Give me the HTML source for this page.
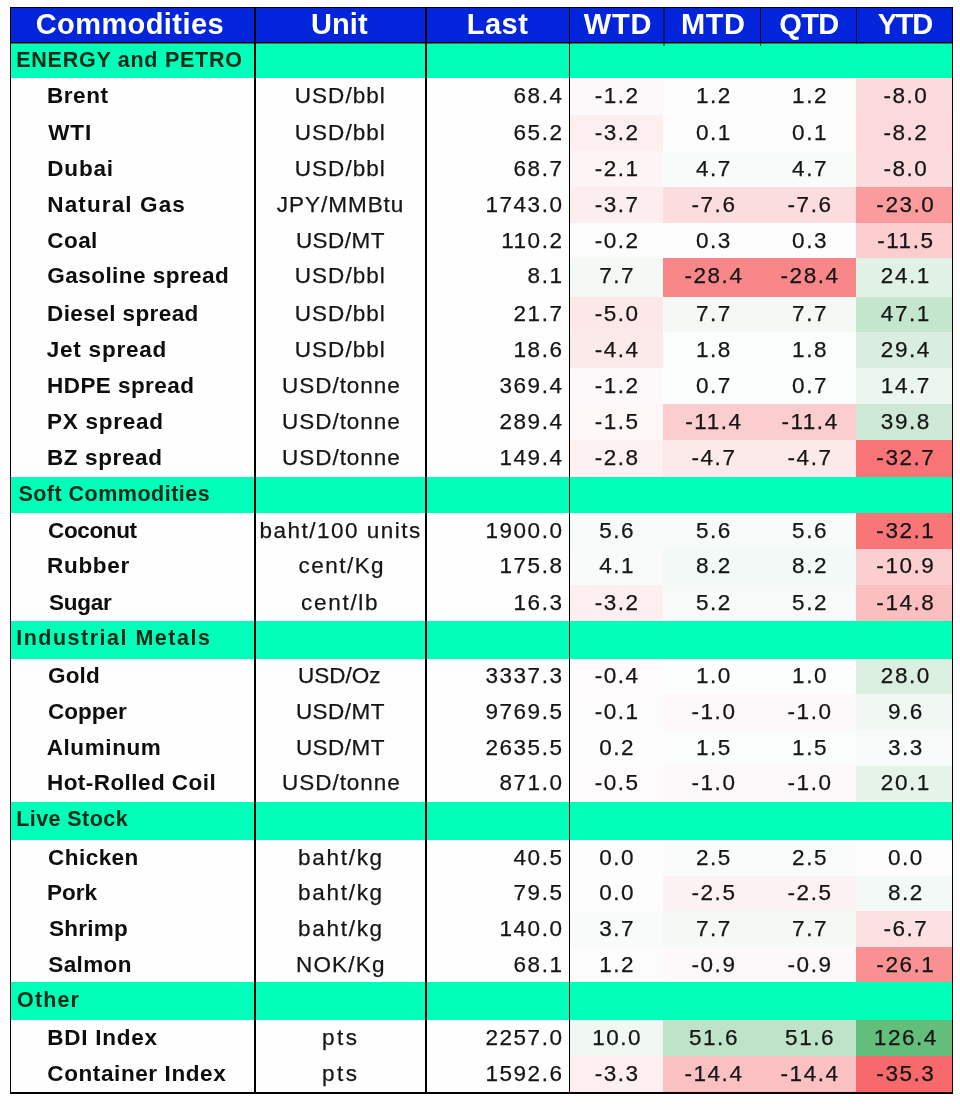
<!DOCTYPE html>
<html><head><meta charset="utf-8"><title>Commodities</title>
<style>
html,body{margin:0;padding:0;background:#fefefe;}
body{width:960px;height:1110px;position:relative;overflow:hidden;font-family:"Liberation Sans",Arial,sans-serif;color:#111;}
.a{position:absolute;}
.hd{background:#0224db;}
.h{position:absolute;top:6px;line-height:37px;color:#fff;font-weight:bold;font-size:29px;white-space:nowrap;}
.sec{background:#00ffb8;}
.t{position:absolute;white-space:nowrap;font-size:22.5px;line-height:35px;}
.n{font-weight:bold;color:#0d0d0d;}
.s{font-weight:bold;color:#052a18;font-size:21.5px;}
.u{color:#151515;-webkit-text-stroke:.25px #151515;}
.l{letter-spacing:1.55px;text-align:right;left:426px;width:137.55px;color:#151515;-webkit-text-stroke:.25px #151515;}
.v{letter-spacing:1.55px;text-align:center;color:#151515;-webkit-text-stroke:.25px #151515;text-indent:1.55px;}
.ln{position:absolute;background:#000;}
#w{position:absolute;left:0;top:0;width:960px;height:1110px;filter:blur(.55px);}
</style></head><body><div id="w">

<div class="a hd" style="left:10px;top:7px;width:943px;height:36px;"></div>
<div class="h" style="left:35.70px;letter-spacing:0.42px;">Commodities</div>
<div class="h" style="left:310.90px;letter-spacing:0.13px;">Unit</div>
<div class="h" style="left:466.75px;letter-spacing:0.47px;">Last</div>
<div class="h" style="left:583.75px;letter-spacing:0.80px;">WTD</div>
<div class="h" style="left:681.10px;letter-spacing:0.50px;">MTD</div>
<div class="h" style="left:779.20px;letter-spacing:-0.60px;">QTD</div>
<div class="h" style="left:877.75px;letter-spacing:-1.30px;">YTD</div>
<div class="a sec" style="left:11px;top:43px;width:942px;height:35px;"></div>
<div class="t s" style="top:43px;left:16.30px;letter-spacing:0.73px;">ENERGY and PETRO</div>
<div class="a" style="left:570px;top:78px;width:93px;height:37px;background:#fdf8f9;"></div>
<div class="a" style="left:663px;top:78px;width:97px;height:37px;background:#fcfcfd;"></div>
<div class="a" style="left:760px;top:78px;width:96px;height:37px;background:#fcfcfd;"></div>
<div class="a" style="left:856px;top:78px;width:97px;height:37px;background:#fcdbdd;"></div>
<div class="t n" style="top:78px;left:46.90px;letter-spacing:0.60px;">Brent</div>
<div class="t u" style="top:78px;left:294.80px;letter-spacing:1.03px;">USD/bbl</div>
<div class="t l" style="top:78px;">68.4</div>
<div class="t v" style="left:571.4px;width:90px;top:78px;">-1.2</div>
<div class="t v" style="left:668.2px;width:90px;top:78px;">1.2</div>
<div class="t v" style="left:764.3px;width:90px;top:78px;">1.2</div>
<div class="t v" style="left:860.1px;width:90px;top:78px;">-8.0</div>
<div class="a" style="left:570px;top:115px;width:93px;height:36px;background:#fdeff0;"></div>
<div class="a" style="left:663px;top:115px;width:97px;height:36px;background:#fdfdfe;"></div>
<div class="a" style="left:760px;top:115px;width:96px;height:36px;background:#fdfdfe;"></div>
<div class="a" style="left:856px;top:115px;width:97px;height:36px;background:#fcdadc;"></div>
<div class="t n" style="top:115px;left:48.30px;letter-spacing:0.80px;">WTI</div>
<div class="t u" style="top:115px;left:294.80px;letter-spacing:1.03px;">USD/bbl</div>
<div class="t l" style="top:115px;">65.2</div>
<div class="t v" style="left:571.4px;width:90px;top:115px;">-3.2</div>
<div class="t v" style="left:668.2px;width:90px;top:115px;">0.1</div>
<div class="t v" style="left:764.3px;width:90px;top:115px;">0.1</div>
<div class="t v" style="left:860.1px;width:90px;top:115px;">-8.2</div>
<div class="a" style="left:570px;top:151px;width:93px;height:36px;background:#fdf4f5;"></div>
<div class="a" style="left:663px;top:151px;width:97px;height:36px;background:#f7fbf9;"></div>
<div class="a" style="left:760px;top:151px;width:96px;height:36px;background:#f7fbf9;"></div>
<div class="a" style="left:856px;top:151px;width:97px;height:36px;background:#fcdbdd;"></div>
<div class="t n" style="top:151px;left:47.30px;letter-spacing:0.80px;">Dubai</div>
<div class="t u" style="top:151px;left:294.80px;letter-spacing:1.03px;">USD/bbl</div>
<div class="t l" style="top:151px;">68.7</div>
<div class="t v" style="left:571.4px;width:90px;top:151px;">-2.1</div>
<div class="t v" style="left:668.2px;width:90px;top:151px;">4.7</div>
<div class="t v" style="left:764.3px;width:90px;top:151px;">4.7</div>
<div class="t v" style="left:860.1px;width:90px;top:151px;">-8.0</div>
<div class="a" style="left:570px;top:187px;width:93px;height:36px;background:#fcedee;"></div>
<div class="a" style="left:663px;top:187px;width:97px;height:36px;background:#fcddde;"></div>
<div class="a" style="left:760px;top:187px;width:96px;height:36px;background:#fcddde;"></div>
<div class="a" style="left:856px;top:187px;width:97px;height:36px;background:#fa9c9e;"></div>
<div class="t n" style="top:187px;left:47.30px;letter-spacing:1.12px;">Natural Gas</div>
<div class="t u" style="top:187px;left:276.75px;letter-spacing:0.98px;">JPY/MMBtu</div>
<div class="t l" style="top:187px;">1743.0</div>
<div class="t v" style="left:571.4px;width:90px;top:187px;">-3.7</div>
<div class="t v" style="left:668.2px;width:90px;top:187px;">-7.6</div>
<div class="t v" style="left:764.3px;width:90px;top:187px;">-7.6</div>
<div class="t v" style="left:860.1px;width:90px;top:187px;">-23.0</div>
<div class="a" style="left:570px;top:223px;width:93px;height:35px;background:#fdfcfd;"></div>
<div class="a" style="left:663px;top:223px;width:97px;height:35px;background:#fdfdfe;"></div>
<div class="a" style="left:760px;top:223px;width:96px;height:35px;background:#fdfdfe;"></div>
<div class="a" style="left:856px;top:223px;width:97px;height:35px;background:#fbcdce;"></div>
<div class="t n" style="top:223px;left:47.30px;letter-spacing:0.43px;">Coal</div>
<div class="t u" style="top:223px;left:295.90px;letter-spacing:0.48px;">USD/MT</div>
<div class="t l" style="top:223px;">110.2</div>
<div class="t v" style="left:571.4px;width:90px;top:223px;">-0.2</div>
<div class="t v" style="left:668.2px;width:90px;top:223px;">0.3</div>
<div class="t v" style="left:764.3px;width:90px;top:223px;">0.3</div>
<div class="t v" style="left:860.1px;width:90px;top:223px;">-11.5</div>
<div class="a" style="left:570px;top:258px;width:93px;height:39px;background:#f4f9f6;"></div>
<div class="a" style="left:663px;top:258px;width:97px;height:39px;background:#f98688;"></div>
<div class="a" style="left:760px;top:258px;width:96px;height:39px;background:#f98688;"></div>
<div class="a" style="left:856px;top:258px;width:97px;height:39px;background:#e0f1e5;"></div>
<div class="t n" style="top:258px;left:47.30px;letter-spacing:0.46px;">Gasoline spread</div>
<div class="t u" style="top:258px;left:294.80px;letter-spacing:1.03px;">USD/bbl</div>
<div class="t l" style="top:258px;">8.1</div>
<div class="t v" style="left:571.4px;width:90px;top:258px;">7.7</div>
<div class="t v" style="left:668.2px;width:90px;top:258px;">-28.4</div>
<div class="t v" style="left:764.3px;width:90px;top:258px;">-28.4</div>
<div class="t v" style="left:860.1px;width:90px;top:258px;">24.1</div>
<div class="a" style="left:570px;top:297px;width:93px;height:35px;background:#fce8e9;"></div>
<div class="a" style="left:663px;top:297px;width:97px;height:35px;background:#f4f9f6;"></div>
<div class="a" style="left:760px;top:297px;width:96px;height:35px;background:#f4f9f6;"></div>
<div class="a" style="left:856px;top:297px;width:97px;height:35px;background:#c4e6cd;"></div>
<div class="t n" style="top:296px;left:47.00px;letter-spacing:0.42px;">Diesel spread</div>
<div class="t u" style="top:296px;left:294.80px;letter-spacing:1.03px;">USD/bbl</div>
<div class="t l" style="top:296px;">21.7</div>
<div class="t v" style="left:571.4px;width:90px;top:296px;">-5.0</div>
<div class="t v" style="left:668.2px;width:90px;top:296px;">7.7</div>
<div class="t v" style="left:764.3px;width:90px;top:296px;">7.7</div>
<div class="t v" style="left:860.1px;width:90px;top:296px;">47.1</div>
<div class="a" style="left:570px;top:332px;width:93px;height:36px;background:#fceaeb;"></div>
<div class="a" style="left:663px;top:332px;width:97px;height:36px;background:#fbfcfc;"></div>
<div class="a" style="left:760px;top:332px;width:96px;height:36px;background:#fbfcfc;"></div>
<div class="a" style="left:856px;top:332px;width:97px;height:36px;background:#d9eee0;"></div>
<div class="t n" style="top:332px;left:46.70px;letter-spacing:0.79px;">Jet spread</div>
<div class="t u" style="top:332px;left:294.80px;letter-spacing:1.03px;">USD/bbl</div>
<div class="t l" style="top:332px;">18.6</div>
<div class="t v" style="left:571.4px;width:90px;top:332px;">-4.4</div>
<div class="t v" style="left:668.2px;width:90px;top:332px;">1.8</div>
<div class="t v" style="left:764.3px;width:90px;top:332px;">1.8</div>
<div class="t v" style="left:860.1px;width:90px;top:332px;">29.4</div>
<div class="a" style="left:570px;top:368px;width:93px;height:36px;background:#fdf8f9;"></div>
<div class="a" style="left:663px;top:368px;width:97px;height:36px;background:#fcfdfd;"></div>
<div class="a" style="left:760px;top:368px;width:96px;height:36px;background:#fcfdfd;"></div>
<div class="a" style="left:856px;top:368px;width:97px;height:36px;background:#ebf6ef;"></div>
<div class="t n" style="top:368px;left:47.00px;letter-spacing:0.44px;">HDPE spread</div>
<div class="t u" style="top:368px;left:282.10px;letter-spacing:0.95px;">USD/tonne</div>
<div class="t l" style="top:368px;">369.4</div>
<div class="t v" style="left:571.4px;width:90px;top:368px;">-1.2</div>
<div class="t v" style="left:668.2px;width:90px;top:368px;">0.7</div>
<div class="t v" style="left:764.3px;width:90px;top:368px;">0.7</div>
<div class="t v" style="left:860.1px;width:90px;top:368px;">14.7</div>
<div class="a" style="left:570px;top:404px;width:93px;height:36px;background:#fdf7f8;"></div>
<div class="a" style="left:663px;top:404px;width:97px;height:36px;background:#fbcdce;"></div>
<div class="a" style="left:760px;top:404px;width:96px;height:36px;background:#fbcdce;"></div>
<div class="a" style="left:856px;top:404px;width:97px;height:36px;background:#cde9d5;"></div>
<div class="t n" style="top:404px;left:47.00px;letter-spacing:0.75px;">PX spread</div>
<div class="t u" style="top:404px;left:282.10px;letter-spacing:0.95px;">USD/tonne</div>
<div class="t l" style="top:404px;">289.4</div>
<div class="t v" style="left:571.4px;width:90px;top:404px;">-1.5</div>
<div class="t v" style="left:668.2px;width:90px;top:404px;">-11.4</div>
<div class="t v" style="left:764.3px;width:90px;top:404px;">-11.4</div>
<div class="t v" style="left:860.1px;width:90px;top:404px;">39.8</div>
<div class="a" style="left:570px;top:440px;width:93px;height:37px;background:#fdf1f2;"></div>
<div class="a" style="left:663px;top:440px;width:97px;height:37px;background:#fce9ea;"></div>
<div class="a" style="left:760px;top:440px;width:96px;height:37px;background:#fce9ea;"></div>
<div class="a" style="left:856px;top:440px;width:97px;height:37px;background:#f87476;"></div>
<div class="t n" style="top:440px;left:47.00px;letter-spacing:0.62px;">BZ spread</div>
<div class="t u" style="top:440px;left:282.10px;letter-spacing:0.95px;">USD/tonne</div>
<div class="t l" style="top:440px;">149.4</div>
<div class="t v" style="left:571.4px;width:90px;top:440px;">-2.8</div>
<div class="t v" style="left:668.2px;width:90px;top:440px;">-4.7</div>
<div class="t v" style="left:764.3px;width:90px;top:440px;">-4.7</div>
<div class="t v" style="left:860.1px;width:90px;top:440px;">-32.7</div>
<div class="a sec" style="left:11px;top:477px;width:942px;height:36px;"></div>
<div class="t s" style="top:477px;left:18.40px;letter-spacing:0.49px;">Soft Commodities</div>
<div class="a" style="left:570px;top:513px;width:93px;height:36px;background:#f6faf8;"></div>
<div class="a" style="left:663px;top:513px;width:97px;height:36px;background:#f6faf8;"></div>
<div class="a" style="left:760px;top:513px;width:96px;height:36px;background:#f6faf8;"></div>
<div class="a" style="left:856px;top:513px;width:97px;height:36px;background:#f87678;"></div>
<div class="t n" style="top:513px;left:48.00px;letter-spacing:-0.37px;">Coconut</div>
<div class="t u" style="top:513px;left:259.50px;letter-spacing:1.49px;">baht/100 units</div>
<div class="t l" style="top:513px;">1900.0</div>
<div class="t v" style="left:571.4px;width:90px;top:513px;">5.6</div>
<div class="t v" style="left:668.2px;width:90px;top:513px;">5.6</div>
<div class="t v" style="left:764.3px;width:90px;top:513px;">5.6</div>
<div class="t v" style="left:860.1px;width:90px;top:513px;">-32.1</div>
<div class="a" style="left:570px;top:549px;width:93px;height:36px;background:#f8fbfa;"></div>
<div class="a" style="left:663px;top:549px;width:97px;height:36px;background:#f3f9f6;"></div>
<div class="a" style="left:760px;top:549px;width:96px;height:36px;background:#f3f9f6;"></div>
<div class="a" style="left:856px;top:549px;width:97px;height:36px;background:#fbcfd0;"></div>
<div class="t n" style="top:548px;left:47.00px;letter-spacing:0.70px;">Rubber</div>
<div class="t u" style="top:548px;left:298.50px;letter-spacing:1.47px;">cent/Kg</div>
<div class="t l" style="top:548px;">175.8</div>
<div class="t v" style="left:571.4px;width:90px;top:548px;">4.1</div>
<div class="t v" style="left:668.2px;width:90px;top:548px;">8.2</div>
<div class="t v" style="left:764.3px;width:90px;top:548px;">8.2</div>
<div class="t v" style="left:860.1px;width:90px;top:548px;">-10.9</div>
<div class="a" style="left:570px;top:585px;width:93px;height:36px;background:#fdeff0;"></div>
<div class="a" style="left:663px;top:585px;width:97px;height:36px;background:#f7faf9;"></div>
<div class="a" style="left:760px;top:585px;width:96px;height:36px;background:#f7faf9;"></div>
<div class="a" style="left:856px;top:585px;width:97px;height:36px;background:#fbbfc0;"></div>
<div class="t n" style="top:585px;left:48.90px;letter-spacing:-0.25px;">Sugar</div>
<div class="t u" style="top:585px;left:301.10px;letter-spacing:1.70px;">cent/lb</div>
<div class="t l" style="top:585px;">16.3</div>
<div class="t v" style="left:571.4px;width:90px;top:585px;">-3.2</div>
<div class="t v" style="left:668.2px;width:90px;top:585px;">5.2</div>
<div class="t v" style="left:764.3px;width:90px;top:585px;">5.2</div>
<div class="t v" style="left:860.1px;width:90px;top:585px;">-14.8</div>
<div class="a sec" style="left:11px;top:621px;width:942px;height:38px;"></div>
<div class="t s" style="top:621px;left:16.20px;letter-spacing:1.50px;">Industrial Metals</div>
<div class="a" style="left:570px;top:659px;width:93px;height:35px;background:#fdfbfc;"></div>
<div class="a" style="left:663px;top:659px;width:97px;height:35px;background:#fcfdfd;"></div>
<div class="a" style="left:760px;top:659px;width:96px;height:35px;background:#fcfdfd;"></div>
<div class="a" style="left:856px;top:659px;width:97px;height:35px;background:#dbefe1;"></div>
<div class="t n" style="top:658px;left:48.00px;letter-spacing:0.17px;">Gold</div>
<div class="t u" style="top:658px;left:298.10px;letter-spacing:-0.04px;">USD/Oz</div>
<div class="t l" style="top:658px;">3337.3</div>
<div class="t v" style="left:571.4px;width:90px;top:658px;">-0.4</div>
<div class="t v" style="left:668.2px;width:90px;top:658px;">1.0</div>
<div class="t v" style="left:764.3px;width:90px;top:658px;">1.0</div>
<div class="t v" style="left:860.1px;width:90px;top:658px;">28.0</div>
<div class="a" style="left:570px;top:694px;width:93px;height:36px;background:#fdfcfd;"></div>
<div class="a" style="left:663px;top:694px;width:97px;height:36px;background:#fdf9fa;"></div>
<div class="a" style="left:760px;top:694px;width:96px;height:36px;background:#fdf9fa;"></div>
<div class="a" style="left:856px;top:694px;width:97px;height:36px;background:#f1f8f4;"></div>
<div class="t n" style="top:694px;left:48.00px;letter-spacing:0.02px;">Copper</div>
<div class="t u" style="top:694px;left:295.90px;letter-spacing:0.48px;">USD/MT</div>
<div class="t l" style="top:694px;">9769.5</div>
<div class="t v" style="left:571.4px;width:90px;top:694px;">-0.1</div>
<div class="t v" style="left:668.2px;width:90px;top:694px;">-1.0</div>
<div class="t v" style="left:764.3px;width:90px;top:694px;">-1.0</div>
<div class="t v" style="left:860.1px;width:90px;top:694px;">9.6</div>
<div class="a" style="left:570px;top:730px;width:93px;height:36px;background:#fdfdfe;"></div>
<div class="a" style="left:663px;top:730px;width:97px;height:36px;background:#fbfcfc;"></div>
<div class="a" style="left:760px;top:730px;width:96px;height:36px;background:#fbfcfc;"></div>
<div class="a" style="left:856px;top:730px;width:97px;height:36px;background:#f9fbfb;"></div>
<div class="t n" style="top:730px;left:46.70px;letter-spacing:0.59px;">Aluminum</div>
<div class="t u" style="top:730px;left:295.90px;letter-spacing:0.48px;">USD/MT</div>
<div class="t l" style="top:730px;">2635.5</div>
<div class="t v" style="left:571.4px;width:90px;top:730px;">0.2</div>
<div class="t v" style="left:668.2px;width:90px;top:730px;">1.5</div>
<div class="t v" style="left:764.3px;width:90px;top:730px;">1.5</div>
<div class="t v" style="left:860.1px;width:90px;top:730px;">3.3</div>
<div class="a" style="left:570px;top:766px;width:93px;height:36px;background:#fdfbfc;"></div>
<div class="a" style="left:663px;top:766px;width:97px;height:36px;background:#fdf9fa;"></div>
<div class="a" style="left:760px;top:766px;width:96px;height:36px;background:#fdf9fa;"></div>
<div class="a" style="left:856px;top:766px;width:97px;height:36px;background:#e5f3e9;"></div>
<div class="t n" style="top:765px;left:47.00px;letter-spacing:0.44px;">Hot-Rolled Coil</div>
<div class="t u" style="top:765px;left:282.10px;letter-spacing:0.95px;">USD/tonne</div>
<div class="t l" style="top:765px;">871.0</div>
<div class="t v" style="left:571.4px;width:90px;top:765px;">-0.5</div>
<div class="t v" style="left:668.2px;width:90px;top:765px;">-1.0</div>
<div class="t v" style="left:764.3px;width:90px;top:765px;">-1.0</div>
<div class="t v" style="left:860.1px;width:90px;top:765px;">20.1</div>
<div class="a sec" style="left:11px;top:802px;width:942px;height:38px;"></div>
<div class="t s" style="top:802px;left:16.20px;letter-spacing:0.43px;">Live Stock</div>
<div class="a" style="left:570px;top:840px;width:93px;height:36px;background:#fdfdfe;"></div>
<div class="a" style="left:663px;top:840px;width:97px;height:36px;background:#fafcfb;"></div>
<div class="a" style="left:760px;top:840px;width:96px;height:36px;background:#fafcfb;"></div>
<div class="a" style="left:856px;top:840px;width:97px;height:36px;background:#fdfdfe;"></div>
<div class="t n" style="top:840px;left:48.00px;letter-spacing:0.47px;">Chicken</div>
<div class="t u" style="top:840px;left:298.10px;letter-spacing:1.70px;">baht/kg</div>
<div class="t l" style="top:840px;">40.5</div>
<div class="t v" style="left:571.4px;width:90px;top:840px;">0.0</div>
<div class="t v" style="left:668.2px;width:90px;top:840px;">2.5</div>
<div class="t v" style="left:764.3px;width:90px;top:840px;">2.5</div>
<div class="t v" style="left:860.1px;width:90px;top:840px;">0.0</div>
<div class="a" style="left:570px;top:876px;width:93px;height:35px;background:#fdfdfe;"></div>
<div class="a" style="left:663px;top:876px;width:97px;height:35px;background:#fdf2f3;"></div>
<div class="a" style="left:760px;top:876px;width:96px;height:35px;background:#fdf2f3;"></div>
<div class="a" style="left:856px;top:876px;width:97px;height:35px;background:#f3f9f6;"></div>
<div class="t n" style="top:875px;left:47.00px;letter-spacing:0.03px;">Pork</div>
<div class="t u" style="top:875px;left:298.10px;letter-spacing:1.70px;">baht/kg</div>
<div class="t l" style="top:875px;">79.5</div>
<div class="t v" style="left:571.4px;width:90px;top:875px;">0.0</div>
<div class="t v" style="left:668.2px;width:90px;top:875px;">-2.5</div>
<div class="t v" style="left:764.3px;width:90px;top:875px;">-2.5</div>
<div class="t v" style="left:860.1px;width:90px;top:875px;">8.2</div>
<div class="a" style="left:570px;top:911px;width:93px;height:36px;background:#f9fbfa;"></div>
<div class="a" style="left:663px;top:911px;width:97px;height:36px;background:#f4f9f6;"></div>
<div class="a" style="left:760px;top:911px;width:96px;height:36px;background:#f4f9f6;"></div>
<div class="a" style="left:856px;top:911px;width:97px;height:36px;background:#fce1e2;"></div>
<div class="t n" style="top:911px;left:48.90px;letter-spacing:0.26px;">Shrimp</div>
<div class="t u" style="top:911px;left:298.10px;letter-spacing:1.70px;">baht/kg</div>
<div class="t l" style="top:911px;">140.0</div>
<div class="t v" style="left:571.4px;width:90px;top:911px;">3.7</div>
<div class="t v" style="left:668.2px;width:90px;top:911px;">7.7</div>
<div class="t v" style="left:764.3px;width:90px;top:911px;">7.7</div>
<div class="t v" style="left:860.1px;width:90px;top:911px;">-6.7</div>
<div class="a" style="left:570px;top:947px;width:93px;height:35px;background:#fcfcfd;"></div>
<div class="a" style="left:663px;top:947px;width:97px;height:35px;background:#fdf9fa;"></div>
<div class="a" style="left:760px;top:947px;width:96px;height:35px;background:#fdf9fa;"></div>
<div class="a" style="left:856px;top:947px;width:97px;height:35px;background:#f99091;"></div>
<div class="t n" style="top:947px;left:48.30px;letter-spacing:0.38px;">Salmon</div>
<div class="t u" style="top:947px;left:295.90px;letter-spacing:1.24px;">NOK/Kg</div>
<div class="t l" style="top:947px;">68.1</div>
<div class="t v" style="left:571.4px;width:90px;top:947px;">1.2</div>
<div class="t v" style="left:668.2px;width:90px;top:947px;">-0.9</div>
<div class="t v" style="left:764.3px;width:90px;top:947px;">-0.9</div>
<div class="t v" style="left:860.1px;width:90px;top:947px;">-26.1</div>
<div class="a sec" style="left:11px;top:982px;width:942px;height:38px;"></div>
<div class="t s" style="top:983px;left:17.10px;letter-spacing:1.10px;">Other</div>
<div class="a" style="left:570px;top:1020px;width:93px;height:36px;background:#f1f8f4;"></div>
<div class="a" style="left:663px;top:1020px;width:97px;height:36px;background:#bee3c9;"></div>
<div class="a" style="left:760px;top:1020px;width:96px;height:36px;background:#bee3c9;"></div>
<div class="a" style="left:856px;top:1020px;width:97px;height:36px;background:#63be7b;"></div>
<div class="t n" style="top:1020px;left:47.30px;letter-spacing:0.75px;">BDI Index</div>
<div class="t u" style="top:1020px;left:321.90px;letter-spacing:2.50px;">pts</div>
<div class="t l" style="top:1020px;">2257.0</div>
<div class="t v" style="left:571.4px;width:90px;top:1020px;">10.0</div>
<div class="t v" style="left:668.2px;width:90px;top:1020px;">51.6</div>
<div class="t v" style="left:764.3px;width:90px;top:1020px;">51.6</div>
<div class="t v" style="left:860.1px;width:90px;top:1020px;">126.4</div>
<div class="a" style="left:570px;top:1056px;width:93px;height:36px;background:#fdeff0;"></div>
<div class="a" style="left:663px;top:1056px;width:97px;height:36px;background:#fbc1c2;"></div>
<div class="a" style="left:760px;top:1056px;width:96px;height:36px;background:#fbc1c2;"></div>
<div class="a" style="left:856px;top:1056px;width:97px;height:36px;background:#f8696b;"></div>
<div class="t n" style="top:1056px;left:47.30px;letter-spacing:0.60px;">Container Index</div>
<div class="t u" style="top:1056px;left:321.90px;letter-spacing:2.50px;">pts</div>
<div class="t l" style="top:1056px;">1592.6</div>
<div class="t v" style="left:571.4px;width:90px;top:1056px;">-3.3</div>
<div class="t v" style="left:668.2px;width:90px;top:1056px;">-14.4</div>
<div class="t v" style="left:764.3px;width:90px;top:1056px;">-14.4</div>
<div class="t v" style="left:860.1px;width:90px;top:1056px;">-35.3</div>
<div class="ln" style="left:10px;top:7px;width:943px;height:1px;"></div>
<div class="ln" style="left:10px;top:42px;width:943px;height:1px;"></div>
<div class="ln" style="left:10px;top:43px;width:943px;height:1px;opacity:.45;"></div>
<div class="ln" style="left:10px;top:1092px;width:943px;height:2px;"></div>
<div class="ln" style="left:10px;top:7px;width:1px;height:1086px;"></div>
<div class="ln" style="left:952px;top:7px;width:1px;height:1086px;"></div>
<div class="ln" style="left:254px;top:7px;width:2px;height:1086px;"></div>
<div class="ln" style="left:425px;top:7px;width:2px;height:1086px;"></div>
<div class="ln" style="left:569px;top:7px;width:1px;height:1086px;"></div>
<div class="ln" style="left:663px;top:7px;width:2px;height:39px;opacity:.5;"></div>
<div class="ln" style="left:760px;top:7px;width:1px;height:39px;opacity:.8;"></div>
<div class="ln" style="left:856px;top:7px;width:1px;height:37px;opacity:.7;"></div>
</div></body></html>
